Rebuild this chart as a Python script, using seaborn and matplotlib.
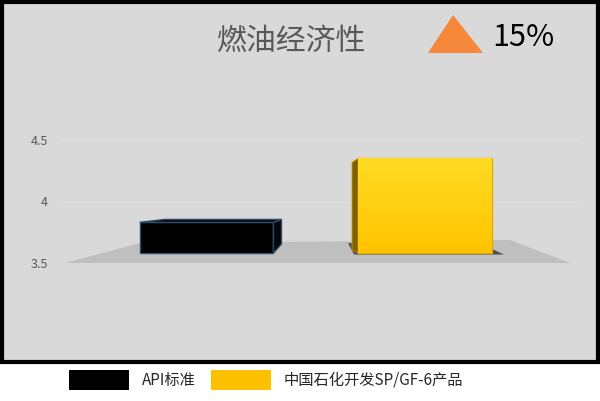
import numpy as np
import pandas as pd
import matplotlib.pyplot as plt
import seaborn as sns
from matplotlib.patches import Polygon, Rectangle, Patch
from matplotlib.colors import LinearSegmentedColormap

# 数据
categories = ['API标准', '中国石化开发SP/GF-6产品']
values = [3.83, 4.35]
bar_colors = ['#000000', '#ffc000']
y_ticks = [3.5, 4, 4.5]
y_tick_labels = ['3.5', '4', '4.5']
title = '燃油经济性'
gain_label = '15%'

sns.set_style('white')
plt.rcParams['font.family'] = ['Noto Sans CJK SC', 'DejaVu Sans']

W, H = 600, 401
fig = plt.figure(figsize=(6, 4.01), dpi=100)
fig.patch.set_facecolor('white')


def fx(x):
    return x / W


def fy(y):
    return 1 - y / H


# 灰色面板 + 黑框
panel = Rectangle((fx(2), fy(362)), 596 / W, 360 / H, transform=fig.transFigure,
                  facecolor='#d9d9d9', edgecolor='black', linewidth=3, zorder=-1)
fig.add_artist(panel)

# 坐标轴: 3.5 在 y=263px, 每单位 123px; 两根柱子间距 218.5px
px_y = 123.0
px_x = 218.5
base = y_ticks[0]
ax = fig.add_axes([fx(60), fy(263), 520 / W, 192 / H])
ax.set_facecolor('none')

df = pd.DataFrame({'cat': categories, 'val': values})
sns.barplot(data=df, x='cat', y='val', hue='cat', palette=bar_colors, width=0.613,
            saturation=1, legend=False, ax=ax, zorder=3)

xlim = (-(206.5 - 60) / px_x, -(206.5 - 60) / px_x + 520 / px_x)
ylim = (base, base + 192 / px_y)


def dx(p):
    return p / px_x


def dy(p):
    return p / px_y


bars = sorted(ax.patches, key=lambda p: p.get_x())

# 地面
floor = Polygon([(dx(65 - 206.5), base), (1 + dx(570 - 425), base),
                 (1 + dx(510 - 425), base + dy(23)), (dx(140 - 206.5), base + dy(20))],
                closed=True, facecolor='#bfbfbf', edgecolor='none', zorder=1)
ax.add_patch(floor)

bottom = base + dy(10)

for i, (p, v) in enumerate(zip(bars, values)):
    p.set_y(bottom)
    p.set_height(v - bottom)
    x0, x1 = p.get_x(), p.get_x() + p.get_width()
    if i == 0:
        p.set_edgecolor('#2e4a66')
        p.set_linewidth(1)
        side = Polygon([(x1, bottom), (x1, v), (x1 + dx(8), v + dy(3)), (x1 + dx(8), bottom + dy(9))],
                       closed=True, facecolor='#050505', edgecolor='#2e4a66', lw=1, zorder=3)
        top = Polygon([(x0, v), (x1, v), (x1 + dx(8), v + dy(3)), (x0 + dx(25), v + dy(3))],
                      closed=True, facecolor='#050505', edgecolor='#2e4a66', lw=1, zorder=3)
        ax.add_patch(side)
        ax.add_patch(top)
    else:
        p.set_edgecolor('#e3a900')
        p.set_linewidth(1)
        shadow = Polygon([(x0 - dx(10), bottom + dy(10)), (x0 - dx(4), bottom - dy(1.5)),
                          (x1 + dx(12), bottom - dy(1.5)), (x1, bottom + dy(4))],
                         closed=True, facecolor='black', alpha=0.6, edgecolor='none', zorder=2)
        ax.add_patch(shadow)
        side = Polygon([(x0, bottom), (x0, v), (x0 - dx(6), v - dy(4)), (x0 - dx(6), bottom + dy(3))],
                       closed=True, facecolor='#7f6000', edgecolor='#c99700', lw=0.6, zorder=3)
        ax.add_patch(side)
        grad = np.linspace(0, 1, 100).reshape(-1, 1)
        cmap = LinearSegmentedColormap.from_list('yl', ['#ffdb24', '#ffc400'])
        im = ax.imshow(grad, extent=(x0, x1, bottom, v), origin='upper', cmap=cmap,
                       aspect='auto', zorder=3.5)
        im.set_clip_path(p)

ax.set_xlim(*xlim)
ax.set_ylim(*ylim)
ax.set_yticks(y_ticks)
ax.set_yticklabels(y_tick_labels)
ax.set_xticks([])
ax.set_xlabel('')
ax.set_ylabel('')
ax.tick_params(axis='y', length=0, pad=8.6, labelsize=9, labelcolor='#595959')
ax.yaxis.grid(True, color='#e0e0e0', linewidth=0.8)
ax.set_axisbelow(True)
sns.despine(ax=ax, left=True, bottom=True)

# 标题和涨幅
fig.text(fx(292), fy(50), title, ha='center', va='baseline', fontsize=21.5, color='#595959')
tri = Polygon([(fx(453), fy(15)), (fx(428), fy(53)), (fx(483), fy(53))], closed=True,
              transform=fig.transFigure, facecolor='#f5883a', edgecolor='none')
fig.add_artist(tri)
fig.text(fx(492), fy(46), gain_label, ha='left', va='baseline', fontsize=22, color='black')

# 图例
handles = [Patch(facecolor=c, edgecolor='none') for c in bar_colors]
fig.legend(handles, categories, loc='center', bbox_to_anchor=(fx(266), fy(380)), ncol=2,
           frameon=False, fontsize=11, handlelength=3.93, handleheight=1.64,
           handletextpad=0.8, columnspacing=1.0)

fig.savefig('out.png', dpi=100)
